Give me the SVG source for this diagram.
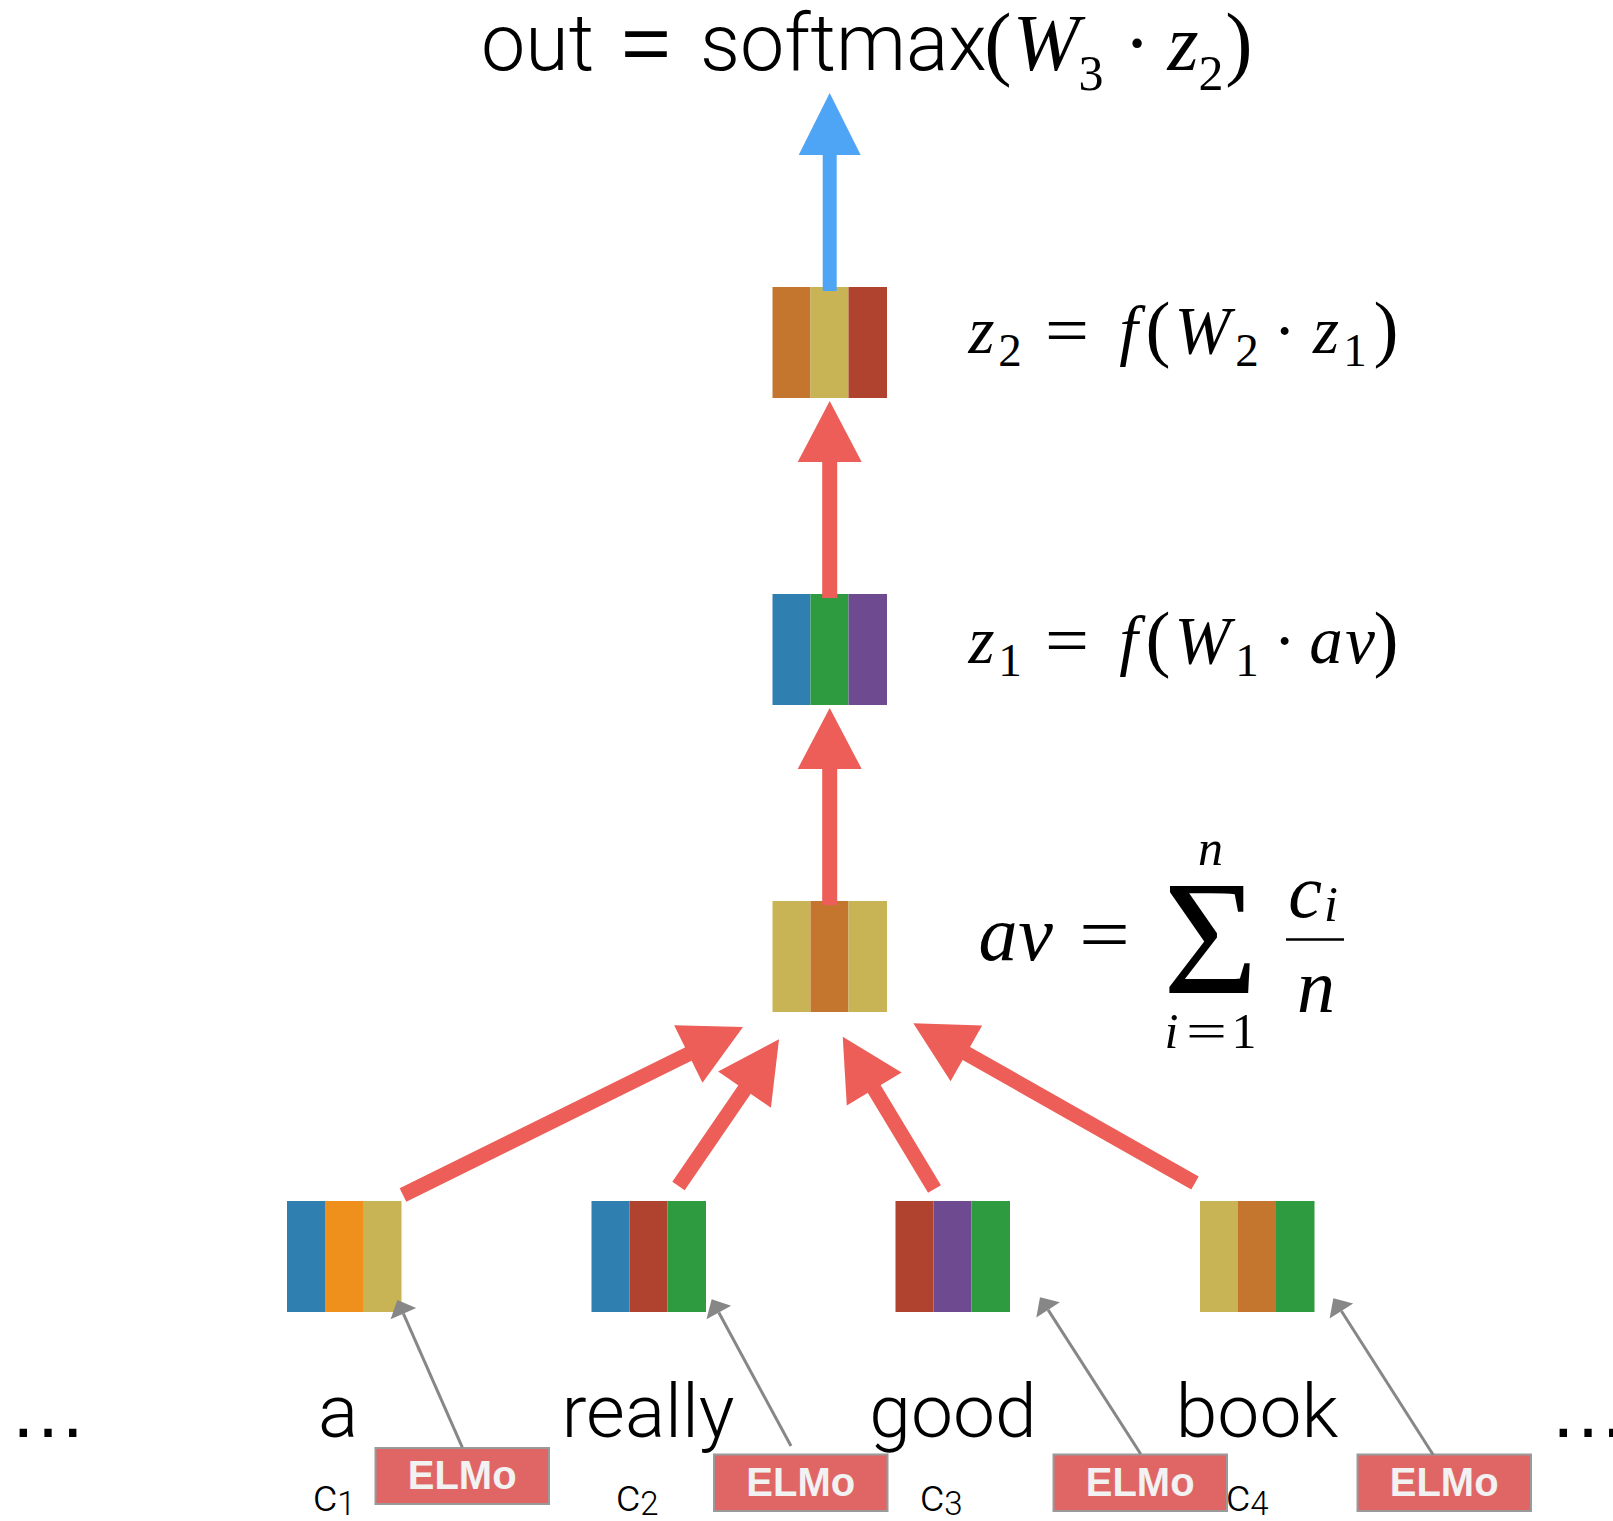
<svg xmlns="http://www.w3.org/2000/svg" width="1613" height="1521" viewBox="0 0 1613 1521">
<style>
.sans{font-family:Roboto,"Liberation Sans",sans-serif;font-weight:300;fill:#000}
.dots{font-family:"Liberation Sans",Arial,sans-serif;fill:#000}
.mi{font-family:"Liberation Serif",serif;font-style:italic;fill:#000}
.mr{font-family:"Liberation Serif",serif;fill:#000}
.elmo rect{fill:#E06666;stroke:#9A9A9A;stroke-width:2}
.elmo text{font-family:"Liberation Sans",Arial,sans-serif;font-weight:bold;font-size:40px;fill:#F2F2F2;text-anchor:middle}
.red{stroke:#EC5E57;stroke-width:15;fill:none}
.blue{stroke:#4FA5F5;stroke-width:14;fill:none}
.grey{stroke:#878787;stroke-width:3;fill:none}
.c1{fill:#2F7FB1}.c2{fill:#F0901C}.c3{fill:#C8B455}.c4{fill:#C4762F}.c5{fill:#B0432F}.c6{fill:#2E9B40}.c7{fill:#6E4B91}
</style>
<defs>
<marker id="rh" markerUnits="userSpaceOnUse" markerWidth="62" markerHeight="64" refX="1" refY="32" orient="auto" overflow="visible"><path d="M0,0 L61,32 L0,64 Z" fill="#EC5E57"/></marker>
<marker id="bh" markerUnits="userSpaceOnUse" markerWidth="62" markerHeight="62" refX="1" refY="31" orient="auto" overflow="visible"><path d="M0,0 L62,31 L0,62 Z" fill="#4FA5F5"/></marker>
<marker id="gh" markerUnits="userSpaceOnUse" markerWidth="16" markerHeight="28" refX="0" refY="14" orient="auto" overflow="visible"><path d="M0,0 L15,14 L0,28 Z" fill="#878787"/></marker>
</defs>
<rect width="1613" height="1521" fill="#fff"/>

<g id="title">
<text class="sans" x="481" y="70" font-size="79">out</text>
<text class="dots" x="621" y="70" font-size="80" textLength="50" lengthAdjust="spacingAndGlyphs">=</text>
<text class="sans" x="700" y="70" font-size="79">softmax</text>
<text class="mr" x="998" y="70" font-size="82" text-anchor="middle">(</text>
<text class="mi" x="1046" y="70" font-size="80" text-anchor="middle">W</text>
<text class="mr" x="1091" y="90" font-size="50" text-anchor="middle">3</text>
<text class="mr" x="1137" y="70" font-size="80" text-anchor="middle">·</text>
<text class="mi" x="1183" y="70" font-size="80" text-anchor="middle">z</text>
<text class="mr" x="1211" y="90" font-size="50" text-anchor="middle">2</text>
<text class="mr" x="1239" y="70" font-size="82" text-anchor="middle">)</text>
</g>

<g id="node-z2">
<rect class="c4" x="772.5" y="287" width="38" height="111"/>
<rect class="c3" x="810.5" y="287" width="38" height="111"/>
<rect class="c5" x="848.5" y="287" width="38.5" height="111"/>
</g>
<g id="eq-z2">
<text class="mi" x="981.5" y="353" font-size="67" text-anchor="middle">z</text>
<text class="mr" x="1010" y="366" font-size="47" text-anchor="middle">2</text>
<text class="mr" x="1045" y="353" font-size="67" textLength="44" lengthAdjust="spacingAndGlyphs">=</text>
<text class="mi" x="1128.5" y="353" font-size="67" text-anchor="middle">f</text>
<text class="mr" x="1158" y="353" font-size="75" text-anchor="middle">(</text>
<text class="mi" x="1202.5" y="353" font-size="67" text-anchor="middle">W</text>
<text class="mr" x="1247" y="366" font-size="47" text-anchor="middle">2</text>
<text class="mr" x="1284.7" y="353" font-size="67" text-anchor="middle">·</text>
<text class="mi" x="1326" y="353" font-size="67" text-anchor="middle">z</text>
<text class="mr" x="1355" y="366" font-size="47" text-anchor="middle">1</text>
<text class="mr" x="1386" y="353" font-size="75" text-anchor="middle">)</text>
</g>

<g id="node-z1">
<rect class="c1" x="772.5" y="594" width="38" height="111"/>
<rect class="c6" x="810.5" y="594" width="38" height="111"/>
<rect class="c7" x="848.5" y="594" width="38.5" height="111"/>
</g>
<g id="eq-z1">
<text class="mi" x="981.5" y="663" font-size="67" text-anchor="middle">z</text>
<text class="mr" x="1010" y="676" font-size="47" text-anchor="middle">1</text>
<text class="mr" x="1045" y="663" font-size="67" textLength="44" lengthAdjust="spacingAndGlyphs">=</text>
<text class="mi" x="1128.5" y="663" font-size="67" text-anchor="middle">f</text>
<text class="mr" x="1158" y="663" font-size="75" text-anchor="middle">(</text>
<text class="mi" x="1202.5" y="663" font-size="67" text-anchor="middle">W</text>
<text class="mr" x="1247" y="676" font-size="47" text-anchor="middle">1</text>
<text class="mr" x="1284.7" y="663" font-size="67" text-anchor="middle">·</text>
<text class="mi" x="1326" y="663" font-size="67" text-anchor="middle">a</text>
<text class="mi" x="1360" y="663" font-size="67" text-anchor="middle">v</text>
<text class="mr" x="1386" y="663" font-size="75" text-anchor="middle">)</text>
</g>

<g id="node-av">
<rect class="c3" x="772.5" y="901" width="38" height="111"/>
<rect class="c4" x="810.5" y="901" width="38" height="111"/>
<rect class="c3" x="848.5" y="901" width="38.5" height="111"/>
</g>
<g id="eq-av">
<text class="mi" x="998" y="960" font-size="78" text-anchor="middle">a</text>
<text class="mi" x="1035.5" y="960" font-size="78" text-anchor="middle">v</text>
<text class="mr" x="1079" y="960" font-size="76" textLength="51" lengthAdjust="spacingAndGlyphs">=</text>
<text class="mr" x="1210.5" y="993" font-size="163" text-anchor="middle">Σ</text>
<text class="mi" x="1210.5" y="865" font-size="50" text-anchor="middle">n</text>
<text class="mi" x="1171.5" y="1048" font-size="50" text-anchor="middle">i</text>
<text class="mr" x="1186" y="1048" font-size="50" textLength="41" lengthAdjust="spacingAndGlyphs">=</text>
<text class="mr" x="1244" y="1048" font-size="50" text-anchor="middle">1</text>
<text class="mi" x="1305" y="917" font-size="76" text-anchor="middle">c</text>
<text class="mi" x="1331" y="921" font-size="50" text-anchor="middle">i</text>
<line x1="1286" y1="939.5" x2="1344" y2="939.5" stroke="#000" stroke-width="2.6"/>
<text class="mi" x="1316" y="1012" font-size="76" text-anchor="middle">n</text>
</g>

<g id="node-a">
<rect class="c1" x="287" y="1201" width="38" height="111"/>
<rect class="c2" x="325" y="1201" width="38" height="111"/>
<rect class="c3" x="363" y="1201" width="38.5" height="111"/>
</g>
<g id="node-really">
<rect class="c1" x="591.5" y="1201" width="38" height="111"/>
<rect class="c5" x="629.5" y="1201" width="38" height="111"/>
<rect class="c6" x="667.5" y="1201" width="38.5" height="111"/>
</g>
<g id="node-good">
<rect class="c5" x="895.5" y="1201" width="38" height="111"/>
<rect class="c7" x="933.5" y="1201" width="38" height="111"/>
<rect class="c6" x="971.5" y="1201" width="38.5" height="111"/>
</g>
<g id="node-book">
<rect class="c3" x="1200" y="1201" width="38" height="111"/>
<rect class="c4" x="1238" y="1201" width="38" height="111"/>
<rect class="c6" x="1276" y="1201" width="38.5" height="111"/>
</g>

<g id="words">
<text class="dots" x="9" y="1437" font-size="78">…</text>
<text class="sans" x="338" y="1437" font-size="75" text-anchor="middle">a</text>
<text class="sans" x="648" y="1437" font-size="75" text-anchor="middle">really</text>
<text class="sans" x="953" y="1437" font-size="75" text-anchor="middle">good</text>
<text class="sans" x="1257" y="1437" font-size="75" text-anchor="middle">book</text>
<text class="dots" x="1549" y="1437" font-size="78">…</text>
</g>
<g id="c-labels">
<text class="sans" x="313" y="1511" font-size="47">c<tspan font-size="33" dy="4">1</tspan></text>
<text class="sans" x="616" y="1511" font-size="47">c<tspan font-size="33" dy="4">2</tspan></text>
<text class="sans" x="920" y="1511" font-size="47">c<tspan font-size="33" dy="4">3</tspan></text>
<text class="sans" x="1226" y="1511" font-size="47">c<tspan font-size="33" dy="4">4</tspan></text>
</g>

<g id="elmo-1" class="elmo"><rect x="375.5" y="1448" width="173.5" height="56"/><text x="462.2" y="1489">ELMo</text></g>
<g id="elmo-2" class="elmo"><rect x="714" y="1454.5" width="173.5" height="56.5"/><text x="800.8" y="1495.5">ELMo</text></g>
<g id="elmo-3" class="elmo"><rect x="1053.5" y="1454.5" width="173.5" height="56.5"/><text x="1140.2" y="1495.5">ELMo</text></g>
<g id="elmo-4" class="elmo"><rect x="1357.5" y="1454.5" width="173.5" height="56.5"/><text x="1444.2" y="1495.5">ELMo</text></g>

<g id="connectors">
<line class="blue" x1="829.7" y1="291" x2="829.7" y2="154" marker-end="url(#bh)"/>
<line class="red" x1="829.7" y1="598" x2="829.7" y2="461" marker-end="url(#rh)"/>
<line class="red" x1="829.7" y1="905" x2="829.7" y2="768" marker-end="url(#rh)"/>
<line class="red" x1="403" y1="1195" x2="689.2" y2="1053.6" marker-end="url(#rh)"/>
<line class="red" x1="678.5" y1="1186" x2="745.1" y2="1088.8" marker-end="url(#rh)"/>
<line class="red" x1="934.5" y1="1189" x2="873.7" y2="1088.1" marker-end="url(#rh)"/>
<line class="red" x1="1195" y1="1183" x2="965.5" y2="1052.9" marker-end="url(#rh)"/>
<line class="grey" x1="462.3" y1="1447.3" x2="403.4" y2="1313.7" marker-end="url(#gh)"/>
<line class="grey" x1="791" y1="1446" x2="718.8" y2="1312.5" marker-end="url(#gh)"/>
<line class="grey" x1="1140.7" y1="1454" x2="1048.1" y2="1309.9" marker-end="url(#gh)"/>
<line class="grey" x1="1433.3" y1="1455" x2="1341.4" y2="1311" marker-end="url(#gh)"/>
</g>
</svg>
